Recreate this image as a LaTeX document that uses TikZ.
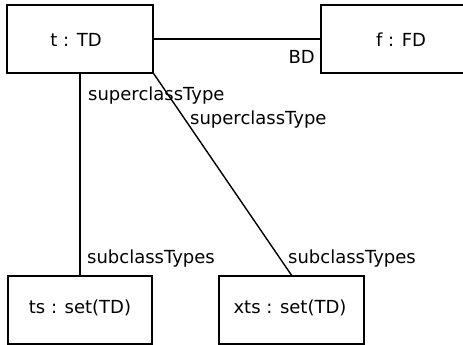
\documentclass[tikz,border=0pt]{standalone}
\usepackage{fontspec}
\setmainfont{DejaVu Sans}
\begin{document}
\begin{tikzpicture}[x=1pt,y=-1pt,
  box/.style={draw,line width=1.6pt,inner sep=0pt,font=\fontsize{18}{21}\selectfont},
  lbl/.style={inner sep=0pt,font=\fontsize{18}{21}\selectfont},
  conn/.style={line width=1.4pt}]
\useasboundingbox (0,0) rectangle (463,345);
\begin{scope}
\clip (0,0) rectangle (463,345);
\node[box,minimum width=146pt,minimum height=68pt] (t) at (80,39) {};
\node[lbl] (tl) at (76,40) {t : TD};
\node[box,minimum width=144pt,minimum height=68pt] (f) at (393,39) {};
\node[lbl] (fl) at (401,40) {f : FD};
\node[box,minimum width=144pt,minimum height=68pt] (ts) at (80,310) {};
\node[lbl] (tsl) at (80,308) {ts : set(TD)};
\node[box,minimum width=145pt,minimum height=68pt] (xts) at (291.5,310) {};
\node[lbl] (xtsl) at (290,308) {xts : set(TD)};
\end{scope}
\draw[conn] (t.east) -- (f.west);
\draw[conn] (t.south) -- (ts.north);
\draw[conn] (t.south east) -- (xts.north);
\node[lbl,anchor=east] (bd) at (315,57) {BD};
\node[lbl,anchor=west] (s1) at (88,96) {superclassType};
\node[lbl,anchor=west] (s2) at (190,120) {superclassType};
\node[lbl,anchor=west] (c1) at (87,259) {subclassTypes};
\node[lbl,anchor=west] (c2) at (288,259) {subclassTypes};
\end{tikzpicture}
\end{document}
